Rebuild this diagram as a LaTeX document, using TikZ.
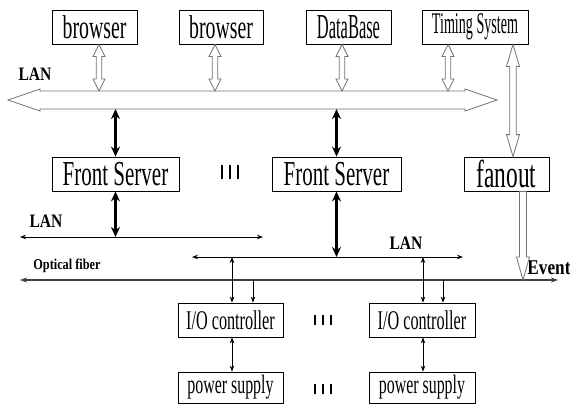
\documentclass[tikz,border=0pt]{standalone}
\usepackage{fontspec}
\setmainfont{Liberation Serif}
\newfontfamily\cf{Liberation Serif}[FakeStretch=0.6]
\newfontfamily\cfn{Liberation Serif}[FakeStretch=0.47]
\newfontfamily\lf{Liberation Serif}[FakeStretch=0.82]
\usetikzlibrary{arrows.meta,calc}
\tikzset{
  box/.style={draw=black, line width=0.8pt, fill=white, inner sep=0pt, minimum height=34pt},
  hollow/.style={draw=black!55, line width=0.8pt, fill=white, line join=miter},
  thk/.style={line width=2.6pt, {Stealth[length=10pt,width=9pt]}-{Stealth[length=10pt,width=9pt]}},
  thn/.style={line width=0.8pt, {Stealth[length=6pt,width=4.5pt]}-{Stealth[length=6pt,width=4.5pt]}},
  thndown/.style={line width=0.8pt, -{Stealth[length=6pt,width=4.5pt]}},
  fiber/.style={draw=black!75, line width=1.4pt, {Stealth[length=7pt,width=5pt]}-{Stealth[length=7pt,width=5pt]}},
  lbl/.style={inner sep=0pt, font=\lf\bfseries},
}
% hollow double arrow: top, bottom, shaft half width, head half width, head length
\newcommand\hdarrow[5]{%
  \draw[hollow] let \p1=#1, \p2=#2 in
    (\x1,\y1) -- (\x1+#4,\y1-#5) -- (\x1+#3,\y1-#5) -- (\x1+#3,\y2+#5) -- (\x1+#4,\y2+#5) --
    (\x1,\y2) -- (\x1-#4,\y2+#5) -- (\x1-#3,\y2+#5) -- (\x1-#3,\y1-#5) -- (\x1-#4,\y1-#5) -- cycle;}
% hollow single arrow pointing down
\newcommand\hsarrow[5]{%
  \draw[hollow] let \p1=#1, \p2=#2 in
    (\x1-#3,\y1) -- (\x1+#3,\y1) -- (\x1+#3,\y2+#5) -- (\x1+#4,\y2+#5) --
    (\x1,\y2) -- (\x1-#4,\y2+#5) -- (\x1-#3,\y2+#5) -- cycle;}
\newcommand\bars[1]{\rule{2.4pt}{#1}\hspace{5.6pt}\rule{2.4pt}{#1}\hspace{5.6pt}\rule{2.4pt}{#1}}
\begin{document}
\begin{tikzpicture}[x=1pt,y=-1pt]
\useasboundingbox (0,0) rectangle (570,405);

% top boxes
\node[box, minimum width=85pt, font={\cf\fontsize{33}{33}\selectfont}] (b1) at (94.5,27) {browser};
\node[box, minimum width=84pt, font={\cf\fontsize{33}{33}\selectfont}] (b2) at (221,27) {browser};
\node[box, minimum width=85pt, font={\cfn\fontsize{35}{35}\selectfont}] (db) at (348.5,27) {DataBase};
\node[box, minimum width=106pt, font={\cfn\fontsize{30}{30}\selectfont}] (ts) at (475,27) {Timing System};

% middle boxes
\node[box, minimum width=127pt, font={\cf\fontsize{35}{35}\selectfont}] (fs1) at (115.5,174) {Front Server};
\node[box, minimum width=129pt, font={\cf\fontsize{35}{35}\selectfont}] (fs2) at (336.5,174) {Front Server};
\node[box, minimum width=85pt, font={\cf\fontsize{39}{39}\selectfont}] (fan) at (506.5,174) {fanout};
\node[inner sep=0pt] (d1) at (230,172) {\bars{14pt}};

% bottom boxes
\node[box, minimum width=105pt, font={\cf\fontsize{27}{27}\selectfont}] (io1) at (230.5,320) {I/O controller};
\node[box, minimum width=106pt, font={\cf\fontsize{27}{27}\selectfont}] (io2) at (422,320) {I/O controller};
\node[box, minimum width=105pt, minimum height=31pt, font={\cf\fontsize{26.5}{26.5}\selectfont}] (ps1) at (230.5,387.5) {power supply};
\node[box, minimum width=106pt, minimum height=31pt, font={\cf\fontsize{26.5}{26.5}\selectfont}] (ps2) at (422,387.5) {power supply};
\node[inner sep=0pt] (d2) at (323,320) {\bars{10pt}};
\node[inner sep=0pt] (d3) at (323,389) {\bars{10pt}};

% big LAN arrow
\coordinate (lanT) at (250,91);
\coordinate (lanB) at (250,109);
\draw[hollow] (8,100) -- (40,89) -- (40,91) -- (465,91) -- (465,89) -- (497,100) -- (465,111) -- (465,109) -- (40,109) -- (40,111) -- cycle;
\node[lbl, font={\lf\bfseries\fontsize{19}{19}\selectfont}] (lan1) at (35,74) {LAN};

% hollow arrows top boxes <-> LAN
\coordinate (b1a) at ($(b1.south)+(4.5,0)$);
\coordinate (b2a) at ($(b2.south)+(-6,0)$);
\coordinate (dba) at ($(db.south)+(-6.5,0)$);
\coordinate (tsa) at ($(ts.south)+(-27,0)$);
\hdarrow{(b1a)}{(b1a |- lanT)}{2.7pt}{6pt}{12pt}
\hdarrow{(b2a)}{(b2a |- lanT)}{2.7pt}{6pt}{12pt}
\hdarrow{(dba)}{(dba |- lanT)}{2.7pt}{6pt}{12pt}
\hdarrow{(tsa)}{(tsa |- lanT)}{2.7pt}{6pt}{12pt}

% timing system <-> fanout
\coordinate (tsb) at ($(ts.south)+(38,0)$);
\hdarrow{(tsb)}{(tsb |- fan.north)}{3.3pt}{6.5pt}{22pt}

% LAN lines
\coordinate (lan2L) at (20,237);
\coordinate (lan2R) at (263,237);
\coordinate (lan3L) at (192,257);
\coordinate (lan3R) at (463,257);
\coordinate (ofL) at (20,280);
\coordinate (ofR) at (558,280);
\draw[thn] (lan2L) -- (lan2R);
\draw[thn] (lan3L) -- (lan3R);
\draw[fiber] (ofL) -- (ofR);
\node[lbl, font={\lf\bfseries\fontsize{19}{19}\selectfont}] (lan2) at (46,221) {LAN};
\node[lbl, font={\lf\bfseries\fontsize{19}{19}\selectfont}] (lan3) at (406,243) {LAN};
\node[lbl, font={\lf\bfseries\fontsize{15}{15}\selectfont}] (ofl) at (67,266) {Optical fiber};
\node[lbl, font={\lf\bfseries\fontsize{21}{21}\selectfont}] (ev) at (549,268) {Event};

% fanout -> optical fiber
\coordinate (fana) at ($(fan.south)+(16.5,0)$);
\hsarrow{(fana)}{(fana |- ofL)}{3.5pt}{6.5pt}{23pt}

% thick arrows front servers
\draw[thk] (fs1.north |- lanB) -- (fs1.north);
\draw[thk] (fs1.south) -- (fs1.south |- lan2L);
\draw[thk] (fs2.north |- lanB) -- (fs2.north);
\draw[thk] (fs2.south) -- (fs2.south |- lan3L);

% I/O controller arrows
\coordinate (io1a) at ($(io1.north)+(1.5,0)$);
\coordinate (io1b) at ($(io1.north)+(22.5,0)$);
\coordinate (io2a) at ($(io2.north)+(1,0)$);
\coordinate (io2b) at ($(io2.north)+(21,0)$);
\draw[thn] (io1a |- lan3L) -- (io1a);
\draw[thndown] (io1b |- ofL) -- (io1b);
\draw[thn] (io2a |- lan3L) -- (io2a);
\draw[thndown] (io2b |- ofL) -- (io2b);

% I/O <-> power supply
\coordinate (ps1a) at ($(io1.south)+(1.5,0)$);
\coordinate (ps2a) at ($(io2.south)+(1,0)$);
\draw[thn] (ps1a) -- (ps1a |- ps1.north);
\draw[thn] (ps2a) -- (ps2a |- ps2.north);
\end{tikzpicture}
\end{document}
